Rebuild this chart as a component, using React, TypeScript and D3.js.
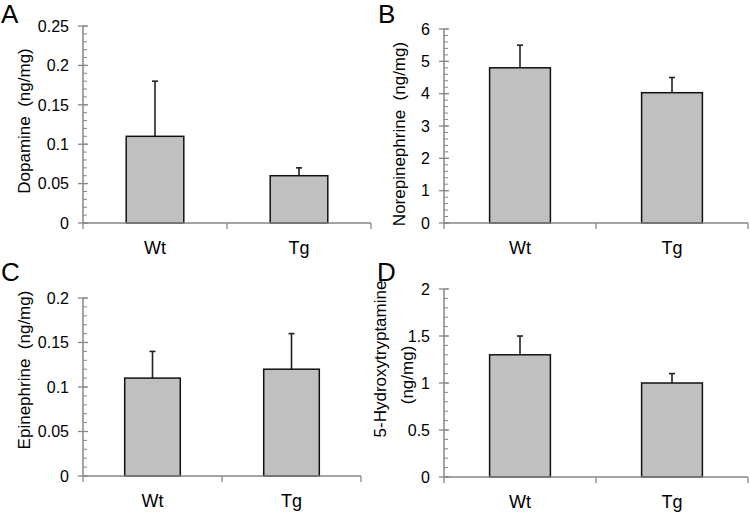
import React from "react";
import * as d3 from "d3";

const categories = ["Wt", "Tg"];

const dopamineValues = [0.11, 0.06];
const dopamineErrors = [0.07, 0.01];
const dopamineTicks = [0, 0.05, 0.1, 0.15, 0.2, 0.25];

const norepinephrineValues = [4.8, 4.03];
const norepinephrineErrors = [0.7, 0.47];
const norepinephrineTicks = [0, 1, 2, 3, 4, 5, 6];

const epinephrineValues = [0.11, 0.12];
const epinephrineErrors = [0.03, 0.04];
const epinephrineTicks = [0, 0.05, 0.1, 0.15, 0.2];

const serotoninValues = [1.3, 1.0];
const serotoninErrors = [0.2, 0.1];
const serotoninTicks = [0, 0.5, 1, 1.5, 2];

type PanelProps = {
  letter: string;
  letterX: number;
  letterY: number;
  values: number[];
  errors: number[];
  ticks: number[];
  minorStep: number;
  x0: number;
  x1: number;
  yTop: number;
  yZero: number;
  titleLines: string[];
  titleXs: number[];
  titleYs: number[];
};

const FONT = "'Liberation Sans', Arial, sans-serif";
const AXIS = "#878787";

function Panel(p: PanelProps) {
  const yMax = p.ticks[p.ticks.length - 1];
  const y = d3.scaleLinear().domain([0, yMax]).range([p.yZero, p.yTop]);
  const x = d3.scaleBand<string>().domain(categories).range([p.x0, p.x1]).padding(0);
  const bw = x.bandwidth() * 0.4;
  const minor = d3.range(0, yMax + p.minorStep / 2, p.minorStep);
  return (
    <g>
      {p.titleLines.map((t, i) => (
        <text
          key={i}
          transform={`translate(${p.titleXs[i]},${p.titleYs[i]}) rotate(-90)`}
          textAnchor="middle"
          fontSize={17}
          fontFamily={FONT}
          fill="#000"
          style={{ whiteSpace: "pre" }}
        >
          {t}
        </text>
      ))}
      <text x={p.letterX} y={p.letterY} fontSize={26} fontFamily={FONT} fill="#000">
        {p.letter}
      </text>
      {minor.map((v, i) => (
        <line key={"m" + i} x1={p.x0} x2={p.x0 + 4} y1={y(v)} y2={y(v)} stroke={AXIS} strokeWidth={1} />
      ))}
      {p.ticks.map((v, i) => (
        <g key={"t" + i}>
          <line x1={p.x0 - 5} x2={p.x0 + 5} y1={y(v)} y2={y(v)} stroke={AXIS} strokeWidth={1.3} />
          <text
            x={p.x0 - 14}
            y={y(v)}
            dy="0.36em"
            textAnchor="end"
            fontSize={16}
            fontFamily={FONT}
            fill="#000"
          >
            {String(v)}
          </text>
        </g>
      ))}
      <line x1={p.x0} x2={p.x0} y1={p.yTop} y2={p.yZero} stroke={AXIS} strokeWidth={1.5} />
      {categories.map((c, i) => {
        const cx = (x(c) as number) + x.bandwidth() / 2;
        const top = y(p.values[i]);
        const errTop = y(p.values[i] + p.errors[i]);
        return (
          <g key={c}>
            <line x1={cx} x2={cx} y1={top} y2={errTop} stroke="#222" strokeWidth={1.6} />
            <line x1={cx - 3} x2={cx + 3} y1={errTop} y2={errTop} stroke="#222" strokeWidth={1.6} />
            <rect
              x={cx - bw / 2}
              y={top}
              width={bw}
              height={p.yZero - top}
              fill="#c0c0c0"
              stroke="#111"
              strokeWidth={1.5}
            />
            <text
              x={cx}
              y={p.yZero + 31}
              textAnchor="middle"
              fontSize={18}
              fontFamily={FONT}
              fill="#000"
            >
              {c}
            </text>
          </g>
        );
      })}
      <line x1={p.x0} x2={p.x1} y1={p.yZero} y2={p.yZero} stroke={AXIS} strokeWidth={1.5} />
      {[p.x0, p.x0 + x.step(), p.x1].map((xx, i) => (
        <line key={"x" + i} x1={xx} x2={xx} y1={p.yZero} y2={p.yZero + 6} stroke={AXIS} strokeWidth={1.3} />
      ))}
    </g>
  );
}

export default function App() {
  return (
    <svg
      width={750}
      height={513}
      viewBox="0 0 750 513"
      style={{ position: "absolute", left: 0, top: 0, background: "#fff" }}
    >
      <rect width={750} height={513} fill="#fff" />
      <Panel
        letter="A"
        letterX={1}
        letterY={23}
        values={dopamineValues}
        errors={dopamineErrors}
        ticks={dopamineTicks}
        minorStep={0.01}
        x0={83}
        x1={371}
        yTop={26}
        yZero={223}
        titleLines={["Dopamine  (ng/mg)"]}
        titleXs={[30]}
        titleYs={[121]}
      />
      <Panel
        letter="B"
        letterX={378}
        letterY={23}
        values={norepinephrineValues}
        errors={norepinephrineErrors}
        ticks={norepinephrineTicks}
        minorStep={0.2}
        x0={444}
        x1={748}
        yTop={29}
        yZero={223}
        titleLines={["Norepinephrine  (ng/mg)"]}
        titleXs={[405]}
        titleYs={[134]}
      />
      <Panel
        letter="C"
        letterX={1}
        letterY={281}
        values={epinephrineValues}
        errors={epinephrineErrors}
        ticks={epinephrineTicks}
        minorStep={0.01}
        x0={83}
        x1={361}
        yTop={298}
        yZero={476}
        titleLines={["Epinephrine  (ng/mg)"]}
        titleXs={[30]}
        titleYs={[370]}
      />
      <Panel
        letter="D"
        letterX={377}
        letterY={281}
        values={serotoninValues}
        errors={serotoninErrors}
        ticks={serotoninTicks}
        minorStep={0.1}
        x0={444}
        x1={748}
        yTop={289}
        yZero={477}
        titleLines={["5-Hydroxytryptamine", "(ng/mg)"]}
        titleXs={[386, 413]}
        titleYs={[359, 375]}
      />
    </svg>
  );
}
